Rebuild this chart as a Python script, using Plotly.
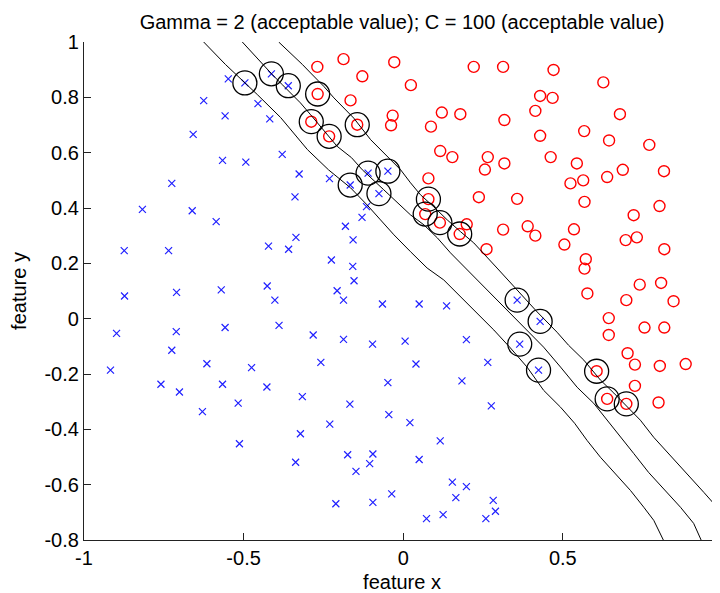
import plotly.graph_objects as go

title_text = "Gamma = 2 (acceptable value); C = 100 (acceptable value)"
x_label = "feature x"
y_label = "feature y"

x_ticks = [-1, -0.5, 0, 0.5, 1]
x_tick_labels = ["-1", "-0.5", "0", "0.5", "1"]
y_ticks = [1, 0.8, 0.6, 0.4, 0.2, 0, -0.2, -0.4, -0.6, -0.8]
y_tick_labels = ["1", "0.8", "0.6", "0.4", "0.2", "0", "-0.2", "-0.4", "-0.6", "-0.8"]

# class -1 (blue crosses)
neg_x = [-0.548, -0.496, -0.625, -0.413, -0.360, -0.455, -0.418, -0.558, -0.658, -0.566,
         -0.493, -0.379, -0.326, -0.231, -0.166, -0.110, -0.076, -0.048, -0.725, -0.339,
         -0.817, -0.661, -0.586, -0.115, -0.129, -0.181, -0.157, -0.336, -0.422, -0.359,
         -0.874, -0.735, -0.225, -0.158, -0.154, -0.873, -0.710, -0.570, -0.426, -0.207,
         -0.402, -0.187, -0.065, -0.898, -0.711, -0.558, -0.389, -0.282, -0.187, -0.096,
         -0.725, -0.917, -0.615, -0.475, -0.258, -0.759, -0.701, -0.566, -0.427, -0.517,
         -0.316, -0.167, -0.048, -0.629, -0.230, -0.322, -0.045, -0.513, -0.337, -0.174,
         -0.095, -0.105, -0.148, -0.211, -0.095, -0.036,
         0.050, 0.136, 0.006, 0.198, 0.040, 0.265, 0.184, 0.276, 0.021, 0.116,
         0.050, 0.154, 0.198, 0.165, 0.282, 0.125, 0.073, 0.289, 0.259,
         0.357, 0.429, 0.365, 0.424]
neg_y = [0.867, 0.852, 0.788, 0.885, 0.842, 0.777, 0.722, 0.733, 0.666, 0.572,
         0.566, 0.594, 0.523, 0.506, 0.483, 0.526, 0.452, 0.533, 0.489, 0.440,
         0.395, 0.390, 0.351, 0.405, 0.366, 0.334, 0.285, 0.294, 0.262, 0.251,
         0.246, 0.246, 0.212, 0.189, 0.137, 0.082, 0.095, 0.104, 0.118, 0.101,
         0.067, 0.067, 0.053, -0.053, -0.047, -0.032, -0.024, -0.059, -0.075, -0.092,
         -0.114, -0.186, -0.163, -0.177, -0.158, -0.237, -0.265, -0.237, -0.247, -0.305,
         -0.282, -0.309, -0.231, -0.336, -0.381, -0.416, -0.347, -0.452, -0.519, -0.492,
         -0.489, -0.524, -0.552, -0.669, -0.664, -0.633,
         0.053, 0.046, -0.081, -0.076, -0.164, -0.158, -0.225, -0.315, -0.376, -0.442,
         -0.509, -0.591, -0.607, -0.647, -0.657, -0.708, -0.723, -0.696, -0.723,
         0.067, -0.010, -0.092, -0.186]

# class +1 (red circles)
pos_x = [-0.269, -0.187, -0.128, -0.268, -0.165, -0.288, -0.232, -0.144, -0.033, -0.038,
         -0.028, 0.024, 0.221, 0.313, 0.471, 0.627, 0.429, 0.468, 0.414, 0.679,
         0.121, 0.179, 0.087, 0.317, 0.429, 0.567, 0.645, 0.771, 0.116, 0.154,
         0.265, 0.256, 0.317, 0.462, 0.544, 0.564, 0.524, 0.639, 0.688, 0.817,
         0.079, 0.079, 0.069, 0.115, 0.199, 0.177, 0.237, 0.357, 0.313, 0.390,
         0.414, 0.535, 0.505, 0.568, 0.722, 0.803, 0.697, 0.732, 0.818, 0.261,
         0.572, 0.568, 0.741, 0.808, 0.577, 0.699, 0.847, 0.644, 0.644, 0.756,
         0.818, 0.703, 0.726, 0.804, 0.885, 0.726, 0.800, 0.606, 0.639, 0.699]
pos_y = [0.910, 0.938, 0.876, 0.812, 0.789, 0.712, 0.659, 0.701, 0.734, 0.699,
         0.927, 0.844, 0.910, 0.910, 0.899, 0.854, 0.805, 0.798, 0.751, 0.739,
         0.745, 0.739, 0.694, 0.718, 0.661, 0.678, 0.644, 0.628, 0.606, 0.584,
         0.584, 0.539, 0.561, 0.584, 0.561, 0.500, 0.489, 0.512, 0.538, 0.533,
         0.507, 0.432, 0.378, 0.347, 0.341, 0.306, 0.439, 0.433, 0.322, 0.334,
         0.300, 0.323, 0.268, 0.422, 0.374, 0.407, 0.284, 0.294, 0.251, 0.251,
         0.215, 0.181, 0.123, 0.129, 0.091, 0.067, 0.063, 0.002, -0.059, -0.032,
         -0.032, -0.125, -0.166, -0.171, -0.164, -0.243, -0.303, -0.190, -0.290, -0.308]

# support vectors (circled)
sv_x = [-0.496, -0.413, -0.360, -0.166, -0.110, -0.076, -0.048, 0.357, 0.429, 0.365, 0.424,
        -0.268, -0.288, -0.232, -0.144, 0.079, 0.069, 0.115, 0.177, 0.606, 0.639, 0.699]
sv_y = [0.852, 0.885, 0.842, 0.483, 0.526, 0.452, 0.533, 0.067, -0.010, -0.092, -0.186,
        0.812, 0.712, 0.659, 0.701, 0.432, 0.378, 0.347, 0.306, -0.190, -0.290, -0.308]

# decision contours (f = -1, 0, +1)
contA_x = [-0.625, -0.557, -0.457, -0.384, -0.300, -0.234, -0.165, -0.113, -0.071, -0.029,
           0.023, 0.075, 0.127, 0.180, 0.232, 0.284, 0.336, 0.388, 0.440, 0.493,
           0.537, 0.576, 0.618, 0.670, 0.712, 0.754, 0.785, 0.815, 0.822]
contA_y = [1.000, 0.919, 0.810, 0.727, 0.611, 0.538, 0.473, 0.411, 0.357, 0.303,
           0.242, 0.183, 0.140, 0.078, 0.020, -0.041, -0.106, -0.175, -0.259, -0.320,
           -0.378, -0.440, -0.501, -0.566, -0.621, -0.682, -0.729, -0.800, -0.830]
contB_x = [-0.504, -0.473, -0.442, -0.410, -0.379, -0.353, -0.322, -0.290, -0.264, -0.238,
           -0.207, -0.162, -0.128, -0.061, -0.019, 0.023, 0.065, 0.107, 0.148, 0.180,
           0.232, 0.284, 0.336, 0.388, 0.440, 0.493, 0.545, 0.597, 0.640, 0.681,
           0.722, 0.769, 0.816, 0.869, 0.910, 0.934, 0.945]
contB_y = [1.000, 0.961, 0.919, 0.882, 0.846, 0.816, 0.780, 0.737, 0.701, 0.665,
           0.623, 0.582, 0.538, 0.466, 0.419, 0.375, 0.339, 0.292, 0.238, 0.201,
           0.140, 0.078, 0.020, -0.041, -0.103, -0.175, -0.248, -0.306, -0.367, -0.429,
           -0.487, -0.556, -0.614, -0.682, -0.740, -0.800, -0.830]
contC_x = [-0.390, -0.353, -0.316, -0.290, -0.249, -0.217, -0.186, -0.155, -0.102, -0.050,
           -0.008, 0.023, 0.054, 0.096, 0.138, 0.180, 0.221, 0.294, 0.357, 0.420,
           0.482, 0.518, 0.566, 0.618, 0.660, 0.702, 0.743, 0.785, 0.837, 0.890,
           0.942, 0.992, 1.041]
contC_y = [1.000, 0.961, 0.919, 0.888, 0.840, 0.798, 0.762, 0.725, 0.647, 0.585,
           0.538, 0.491, 0.448, 0.404, 0.357, 0.314, 0.274, 0.183, 0.104, 0.024,
           -0.049, -0.096, -0.150, -0.222, -0.269, -0.320, -0.367, -0.429, -0.494, -0.559,
           -0.628, -0.693, -0.758]

FONT = "Liberation Sans, Arial, sans-serif"
FS = 20

fig = go.Figure()
fig.add_trace(go.Scatter(x=neg_x, y=neg_y, mode="markers",
                         marker=dict(symbol="x-thin", size=7, color="#2020ff",
                                     line=dict(color="#2020ff", width=1.2)),
                         showlegend=False))
fig.add_trace(go.Scatter(x=pos_x, y=pos_y, mode="markers",
                         marker=dict(symbol="circle-open", size=11, color="#ff0000",
                                     line=dict(color="#ff0000", width=1.4)),
                         showlegend=False))
for cx, cy in [(contA_x, contA_y), (contB_x, contB_y), (contC_x, contC_y)]:
    fig.add_trace(go.Scatter(x=cx, y=cy, mode="lines",
                             line=dict(color="black", width=1),
                             showlegend=False))
fig.add_trace(go.Scatter(x=sv_x, y=sv_y, mode="markers",
                         marker=dict(symbol="circle-open", size=24, color="black",
                                     line=dict(color="#111111", width=1.3)),
                         showlegend=False))

# the page adds an 8px body margin, so the figure is 712x585 placed at (8, 8)
fig.update_layout(
    width=712, height=585,
    margin=dict(l=76, r=0, t=34, b=53),
    paper_bgcolor="white", plot_bgcolor="white",
    font=dict(family=FONT, size=FS, color="black"),
    title=dict(text=title_text, x=0.5, xref="paper", xanchor="center",
               y=1 - 14 / 585, yref="container", yanchor="middle",
               font=dict(family=FONT, size=FS, color="black")),
    xaxis=dict(range=[-1, 0.9925], tickvals=x_ticks, ticktext=x_tick_labels,
               showgrid=False, zeroline=False, showline=True, linecolor="#222222",
               linewidth=1.3, ticks="inside", ticklen=7, tickcolor="#222222",
               tickfont=dict(family=FONT, size=FS, color="black"),
               title=dict(text=x_label, standoff=6, font=dict(family=FONT, size=FS))),
    yaxis=dict(range=[-0.8, 1], tickvals=y_ticks, ticktext=y_tick_labels,
               showgrid=False, zeroline=False, showline=True, linecolor="#222222",
               linewidth=1.3, ticks="inside", ticklen=7, tickcolor="#222222",
               tickfont=dict(family=FONT, size=FS, color="black"),
               title=dict(text=y_label, standoff=12, font=dict(family=FONT, size=FS))),
)

fig.write_html("out.html")
